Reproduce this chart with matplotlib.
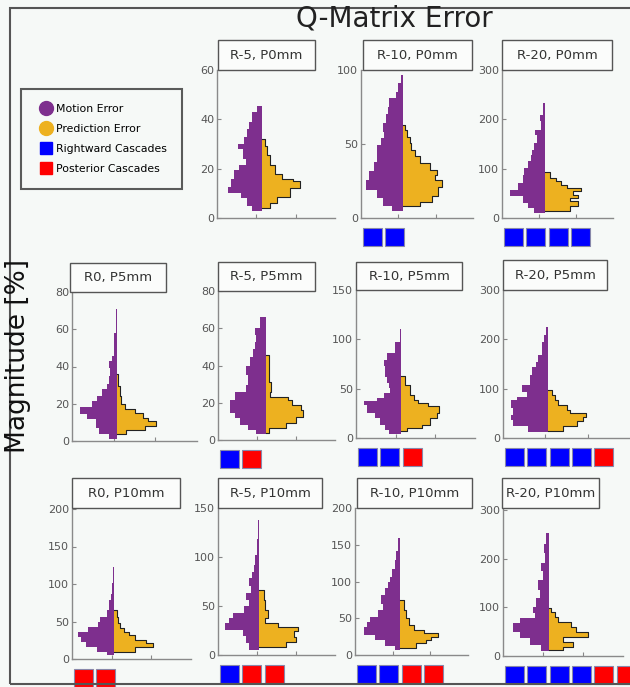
import matplotlib.pyplot as plt
from matplotlib.lines import Line2D
from matplotlib.patches import Rectangle, Polygon

# ---- data: (bin start, half width) pairs, last one closes the top
motion_r5_p0 = [(2.7, .25), (4.7, .375), (8, .54), (10, .875), (12.7, .79), (16, .71), (19.5, .58),
                (21.5, .42), (24, .5), (28, .62), (30, .46), (33, .375), (36, .33), (39, .25),
                (43, .125), (45.4, 0)]
pred_r5_p0 = [(4, .21), (6, .375), (8.7, .71), (12, .96), (14.8, .79), (16, .5), (18, .33),
              (21.5, .21), (25.5, .125), (29, .08), (32, 0)]

motion_r10_p0 = [(4.5, .29), (7.9, .55), (13.5, .69), (19, 1.0), (25.8, .91), (31.5, .78), (38, .69),
                 (49.4, .6), (54, .51), (58.4, .55), (64, .46), (70, .42), (75, .375), (81, .2),
                 (85.4, .15), (91, .06), (96.6, 0)]
pred_r10_p0 = [(7.9, .45), (11, .76), (14.6, .94), (21, 1.03), (26, .85), (29, .9), (32.6, .71),
               (37, .45), (41.6, .31), (46, .22), (50.6, .18), (55, .11), (59.5, .05), (63, 0)]

motion_r20_p0 = [(10, .3), (20, .47), (30, .6), (44, .94), (57, .73), (71, .6), (88, .56), (101, .47),
                 (115, .38), (128, .34), (138, .3), (152, .21), (169, .26), (179, .1), (196, .13),
                 (209, .04), (233, 0)]
pred_r20_p0 = [(15, .68), (24, .9), (34, .68), (40, .9), (47, .77), (54, .98), (61, .6), (67, .43),
               (74, .3), (81, .13), (94, 0)]

motion_r0_p5 = [(0.9, .19), (3.6, .43), (7.2, .51), (11.6, .72), (14.3, .89), (18.4, .59), (21.5, .47),
                (24, .35), (27.7, .24), (30.4, .19), (35, .16), (39, .19), (43, .13), (45.6, .08),
                (50, .065), (58, .025), (71, 0)]
pred_r0_p5 = [(3.6, .22), (5.9, .67), (8, .93), (10.7, .75), (12.5, .63), (15.2, .42), (17.4, .18),
              (19.7, .1), (24, .07), (29.5, .035), (35.8, 0)]

motion_r5_p5 = [(3, .24), (5.4, .45), (8, .66), (11.6, .79), (14.3, .92), (21.5, .79), (26, .49),
                (29.5, .45), (35, .49), (40, .41), (44.7, .32), (49, .28), (52.8, .24), (56.4, .28),
                (60, .15), (66.2, 0)]
pred_r5_p5 = [(3.6, .1), (6.3, .53), (9, .78), (12.5, .97), (16, .91), (18.8, .69), (21.5, .57),
              (23.3, .12), (26, .14), (31.3, .08), (38.5, .1), (45.6, 0)]

motion_r10_p5 = [(4, .31), (8.4, .39), (13.5, .52), (20, .64), (25, .85), (33.7, .93), (37, .6),
                 (40.4, .43), (45.5, .27), (50.5, .31), (55.6, .35), (62, .39), (72.5, .43), (79, .35),
                 (86, .14), (97.7, .033), (110.5, 0)]
pred_r10_p5 = [(6.7, .15), (10, .53), (13.5, .73), (20, .9), (25, .97), (32, .69), (35.4, .44),
               (38.8, .32), (43.8, .23), (54, .11), (63, 0)]

motion_r20_p5 = [(12, .47), (23.4, .83), (37, .87), (47, .83), (60, .87), (77, .75), (84, .51),
                 (94, .63), (107, .43), (127, .39), (144, .28), (154, .24), (168, .16), (194, .1),
                 (208, .06), (226, 0)]
pred_r20_p5 = [(15, .35), (23.4, .67), (33.5, .83), (43.5, .89), (50, .51), (57, .43), (67, .24),
               (77, .16), (87, .08), (97, 0)]

motion_r0_p10 = [(5, .2), (10, .45), (16, .71), (23, .84), (30, .92), (36, .67), (43, .41), (50, .37),
                 (56, .2), (65, .14), (79, .085), (87, .05), (101, .035), (123, .02), (154, 0)]
pred_r0_p10 = [(10, .53), (16, .96), (21, .79), (25, .53), (32, .36), (36, .23), (41, .15),
               (47.5, .085), (56, .06), (65, 0)]

motion_r5_p10 = [(5, .27), (12, .35), (19, .43), (25.6, .89), (32.4, .77), (37.5, .68), (42.7, .39),
                 (49.5, .27), (56.3, .35), (63, .22), (70, .27), (78.5, .18), (85, .14), (92, .1),
                 (102, .06), (118, .03), (138, 0)]
pred_r5_p10 = [(8.5, .69), (13.6, .94), (18.8, .9), (24, .98), (29, .48), (32.4, .15), (37.5, .23),
               (46, .15), (56.3, .11), (66.5, 0)]

motion_r10_p10 = [(7, .15), (12.6, .41), (20.7, .67), (27.5, .96), (38.7, .89), (45.5, .8), (52, .58),
                  (61, .45), (70, .5), (81.5, .41), (90.5, .32), (99.5, .28), (106, .21), (117.6, .15),
                  (129, .1), (142, .06), (159, 0)]
pred_r10_p10 = [(9.5, .42), (16, .68), (20.7, .81), (25, 1.0), (29.3, .63), (34, .37), (41, .24),
                (50, .16), (61, .09), (75, 0)]

motion_r20_p10 = [(11, .19), (23, .48), (36.5, .73), (50, .9), (67.6, .73), (78, .36), (88, .4),
                  (102, .32), (119, .23), (136.5, .28), (157, .15), (174.5, .19), (192, .11),
                  (212, .13), (230, .08), (254, 0)]
pred_r20_p10 = [(12.4, .35), (19.3, .6), (29.7, .35), (40, .98), (50, .68), (60.7, .56), (71, .23),
                (81.4, .14), (91.7, .06), (98.6, 0)]

panel_names = ['R-5, P0mm', 'R-10, P0mm', 'R-20, P0mm',
               'R0, P5mm', 'R-5, P5mm', 'R-10, P5mm', 'R-20, P5mm',
               'R0, P10mm', 'R-5, P10mm', 'R-10, P10mm', 'R-20, P10mm']
motion = [motion_r5_p0, motion_r10_p0, motion_r20_p0,
          motion_r0_p5, motion_r5_p5, motion_r10_p5, motion_r20_p5,
          motion_r0_p10, motion_r5_p10, motion_r10_p10, motion_r20_p10]
prediction = [pred_r5_p0, pred_r10_p0, pred_r20_p0,
              pred_r0_p5, pred_r5_p5, pred_r10_p5, pred_r20_p5,
              pred_r0_p10, pred_r5_p10, pred_r10_p10, pred_r20_p10]
y_max = [60, 100, 300, 80, 80, 150, 300, 200, 150, 200, 305]
y_ticks = [[0, 20, 40, 60], [0, 50, 100], [0, 100, 200, 300],
           [0, 20, 40, 60, 80], [0, 20, 40, 60, 80], [0, 50, 100, 150], [0, 100, 200, 300],
           [0, 50, 100, 150, 200], [0, 50, 100, 150], [0, 50, 100, 150, 200], [0, 100, 200, 300]]
rightward = [0, 2, 4, 0, 1, 2, 4, 0, 1, 2, 4]
posterior = [0, 0, 0, 0, 1, 1, 1, 2, 2, 2, 2]

# ---- layout in pixels (left, top, right, bottom), violin centre in x units
axes_px = [(217, 70, 335, 218), (361, 70, 473, 218), (502, 70, 613, 218),
           (72, 292, 197, 441), (218, 291, 335, 440), (356, 290, 475, 438), (503, 290, 630, 438),
           (72, 509, 191, 659), (218, 508, 335, 655), (355, 508, 468, 655), (503, 508, 623, 656)]
title_px = [(218, 40, 315, 70), (363, 40, 472, 70), (502, 40, 612, 70),
            (70, 263, 166, 292), (218, 262, 315, 291), (356, 262, 462, 290), (503, 260, 607, 290),
            (72, 478, 180, 508), (218, 478, 322, 508), (357, 478, 472, 508), (502, 478, 599, 508)]
centers = [1.15, 1.13, 1.16, 1.08, 1.22, 1.13, 1.07, 1.07, 1.06, 1.2, 1.15]

W, H = 630, 687
BG = '#f6f9f7'
PURPLE = '#7e2f8e'
ORANGE = '#edb120'


def fx(x):
    return x / W


def fy(y):
    return 1 - y / H


def half_violin(ax, steps, c, side, color, outline):
    ys = [s[0] for s in steps]
    ws = [s[1] for s in steps]
    pts = [(c, ys[0])]
    for i in range(len(steps) - 1):
        pts.append((c + side * ws[i], ys[i]))
        pts.append((c + side * ws[i], ys[i + 1]))
    pts.append((c, ys[-1]))
    ax.add_patch(Polygon(pts, closed=True, facecolor=color, edgecolor='none', zorder=2))
    if outline:
        ax.plot([p[0] for p in pts], [p[1] for p in pts], color='#222222', lw=0.8, zorder=3)


fig = plt.figure(figsize=(6.3, 6.87), dpi=100, facecolor=BG)

for i, name in enumerate(panel_names):
    L, T, R, B = axes_px[i]
    ax = fig.add_axes([fx(L), fy(B), (R - L) / W, (B - T) / H])
    ax.set_facecolor('none')
    half_violin(ax, motion[i], centers[i], -1, PURPLE, False)
    half_violin(ax, prediction[i], centers[i], 1, ORANGE, True)
    ax.set_xlim(0, 3)
    ax.set_ylim(0, y_max[i])
    ax.set_xticks([1, 2])
    ax.set_xticklabels([])
    ax.set_yticks(y_ticks[i])
    ax.tick_params(direction='in', length=3, width=0.8, colors='#888888',
                   labelcolor='#555555', labelsize=8, pad=2)
    for s in ['top', 'right']:
        ax.spines[s].set_visible(False)
    for s in ['left', 'bottom']:
        ax.spines[s].set_color('#8a8a8a')
        ax.spines[s].set_linewidth(1.0)

    # panel title box
    tl, tt, tr, tb = title_px[i]
    fig.add_artist(Rectangle((fx(tl), fy(tb)), (tr - tl) / W, (tb - tt) / H,
                             transform=fig.transFigure, facecolor='#fbfcfb',
                             edgecolor='#555555', lw=1.0))
    fig.text(fx((tl + tr) / 2), fy((tt + tb) / 2), name, ha='center', va='center',
             fontsize=9.5, color='#333333')

    # cascade squares
    kinds = ['#0000ff'] * rightward[i] + ['#ff0000'] * posterior[i]
    for k, c in enumerate(kinds):
        x0 = L + 2 + k * 22.3
        fig.add_artist(Rectangle((fx(x0), fy(B + 28)), 19 / W, 18 / H,
                                 transform=fig.transFigure, facecolor=c,
                                 edgecolor='#8888aa', lw=0.8))

# outer frame
fig.add_artist(Rectangle((fx(10), fy(684)), 625 / W, 676 / H, transform=fig.transFigure,
                         facecolor='none', edgecolor='#555555', lw=1.5))

fig.text(fx(394), fy(18), 'Q-Matrix Error', ha='center', va='center', fontsize=20, color='#222222')
fig.text(fx(18), fy(356), 'Magnitude [%]', ha='center', va='center', rotation=90,
         fontsize=19, color='#111111')

handles = [Line2D([], [], ls='none', marker='o', ms=10, color=PURPLE),
           Line2D([], [], ls='none', marker='o', ms=10, color=ORANGE),
           Line2D([], [], ls='none', marker='s', ms=9, color='#0000ff'),
           Line2D([], [], ls='none', marker='s', ms=9, color='#ff0000')]
labels = ['Motion Error', 'Prediction Error', 'Rightward Cascades', 'Posterior Cascades']
leg = fig.legend(handles, labels, loc='upper left', bbox_to_anchor=(fx(21), fy(89)),
                 fontsize=7.8, frameon=True, fancybox=False, handlelength=1.8,
                 handletextpad=0.0, labelspacing=0.92, borderpad=1.4, borderaxespad=0)
leg.get_frame().set_edgecolor('#333333')
leg.get_frame().set_linewidth(1.5)
leg.get_frame().set_facecolor(BG)

fig.savefig('out.png', dpi=100, facecolor=BG)
